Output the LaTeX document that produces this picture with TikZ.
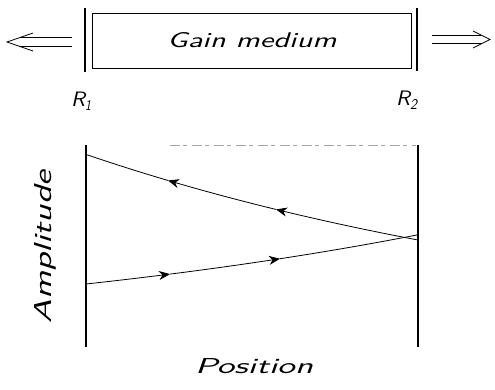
\documentclass[tikz,border=0pt]{standalone}
\usetikzlibrary{arrows.meta}
\tikzset{wavetip/.tip={Stealth[length=11pt,width=9pt,inset=3.5pt]}}
\begin{document}
\begin{tikzpicture}[x=1pt,y=-1pt,
  mirror/.style={line width=2.6pt,black},
  thin/.style={line width=0.8pt,black},
  lbl/.style={inner sep=0pt,font=\sffamily\itshape},
  wave/.style={thin},
  declare function={up(\t)=347-107*exp(0.001777*(418-\t)); lo(\t)=347-63*exp(0.001732*(\t-86));}]
\useasboundingbox (0,0) rectangle (495,389);
% ---- top: laser ----
\draw[mirror] (85,8) -- (85,72);
\draw[mirror] (417,8) -- (417,71);
\draw[thin,line width=0.7pt] (92,13) rectangle (411,68);
\node[lbl,anchor=base] (gain) at (252,47) {\resizebox{169pt}{15pt}{Gain medium}};
% left output arrow
\draw[thin] (72,37.5) -- (20,37.5);
\draw[thin] (72,46) -- (18.6,46);
\draw[thin,line join=miter] (33,33) -- (7,42) -- (33,51);
% right output arrow
\draw[thin] (432,35) -- (481,35);
\draw[thin] (432,43.5) -- (482,43.5);
\draw[thin,line join=miter] (473,31) -- (490,39.5) -- (473,48);
% labels
\node[lbl,anchor=base west] (r1) at (71,106) {\resizebox{14pt}{14.5pt}{R}\raisebox{-4pt}{\resizebox{6pt}{10pt}{1}}};
\node[lbl,anchor=base west] (r2) at (396,105) {\resizebox{14pt}{14.5pt}{R}\raisebox{-4pt}{\resizebox{7pt}{10pt}{2}}};
% ---- bottom: amplitude plot ----
\draw[mirror,line width=2.3pt] (86,145) -- (86,347);
\draw[mirror,line width=2.3pt] (418,145) -- (418,347);
\draw[gray!70,line width=0.7pt,dash pattern=on 10pt off 3pt on 4pt off 5pt] (170,145) -- (416,145);
% backward wave (right to left)
\draw[wave,-{wavetip}] plot[domain=418:276,samples=30] (\x,{up(\x)});
\draw[wave,-{wavetip}] plot[domain=276:168,samples=30] (\x,{up(\x)});
\draw[wave] plot[domain=168:86,samples=30] (\x,{up(\x)});
% forward wave (left to right)
\draw[wave,-{wavetip}] plot[domain=86:170,samples=30] (\x,{lo(\x)});
\draw[wave,-{wavetip}] plot[domain=170:280,samples=30] (\x,{lo(\x)});
\draw[wave] plot[domain=280:418,samples=30] (\x,{lo(\x)});
\node[lbl,anchor=base,rotate=90] (amp) at (51,247) {\resizebox{153pt}{17pt}{Amplitude}};
\node[lbl,anchor=base] (pos) at (254,373) {\resizebox{118pt}{15pt}{Position}};
\end{tikzpicture}
\end{document}
